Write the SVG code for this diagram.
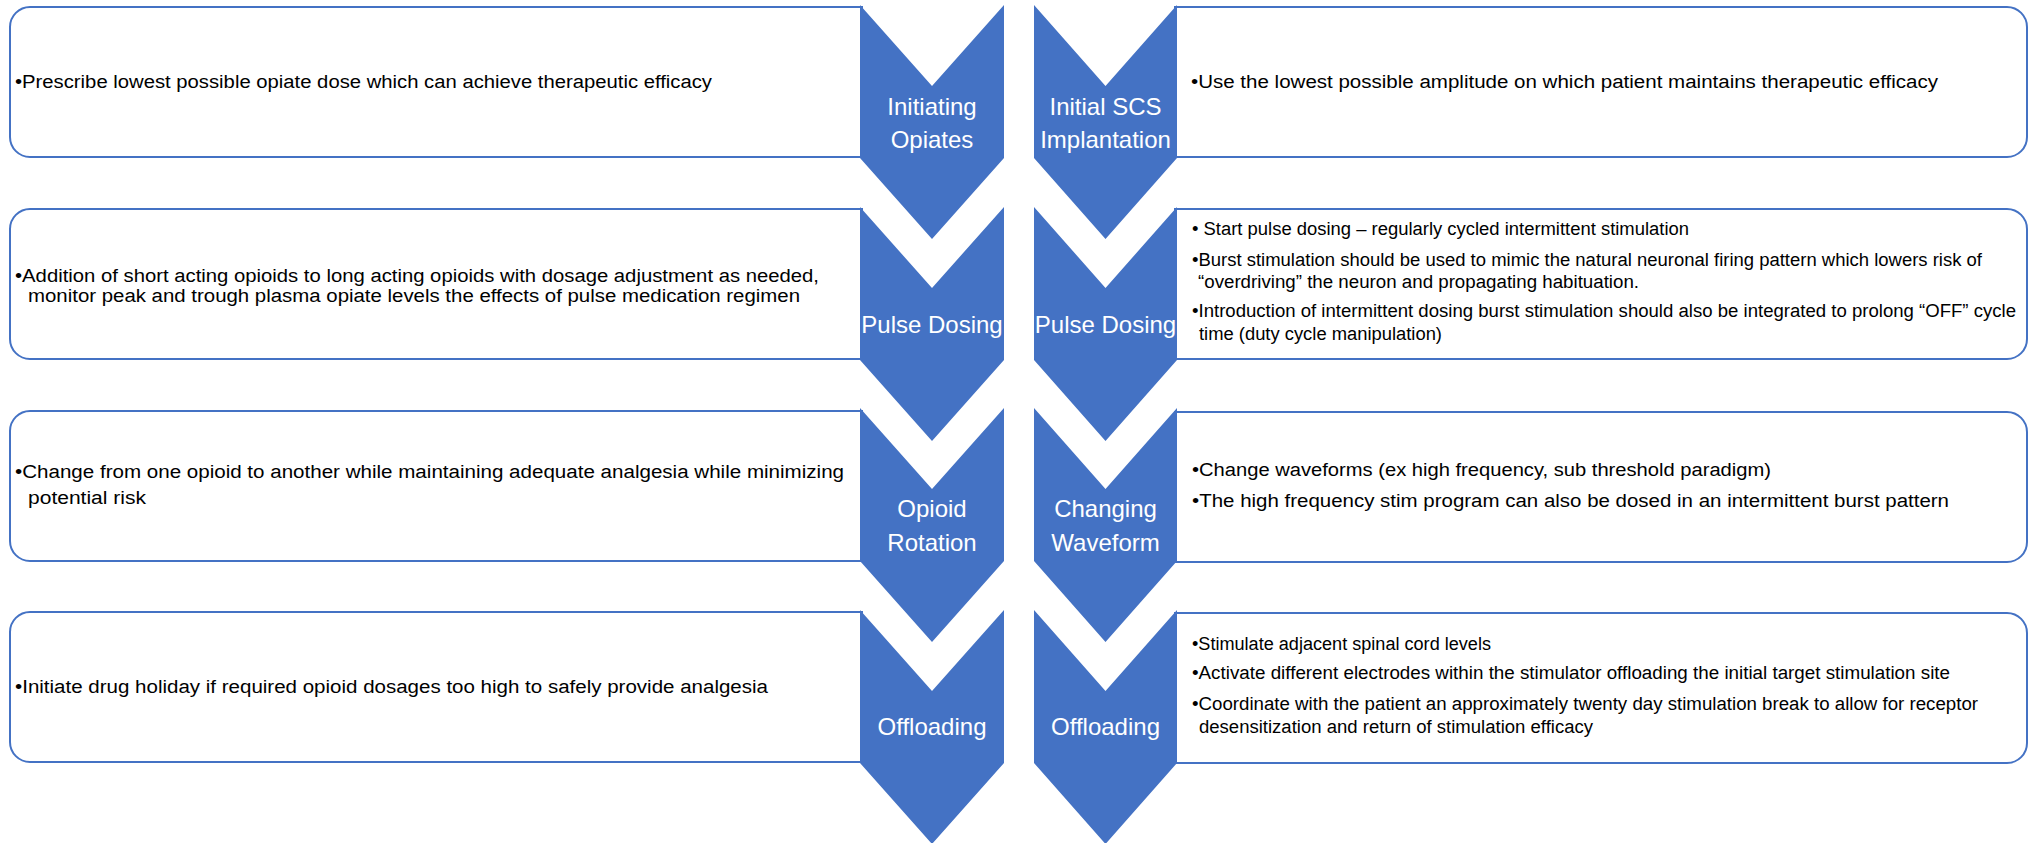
<svg xmlns="http://www.w3.org/2000/svg" width="2031" height="843" viewBox="0 0 2031 843">
<style>
.box{fill:#ffffff;stroke:#4472C4;stroke-width:2}
.chev{fill:#4472C4}
.lbl{font-family:"Liberation Sans",Arial,sans-serif;font-size:24px;fill:#ffffff;text-anchor:middle}
.txt{font-family:"Liberation Sans",Arial,sans-serif;font-size:18px;fill:#000000}
</style>
<rect width="2031" height="843" fill="#ffffff"/>
<g id="connectors"/>
<g id="left-box-1"><path class="box" d="M862 7H30A20 20 0 0 0 10 27V137A20 20 0 0 0 30 157H862Z"/>
<text class="txt" x="15" y="88" textLength="697" lengthAdjust="spacingAndGlyphs">•Prescribe lowest possible opiate dose which can achieve therapeutic efficacy</text></g>
<g id="left-box-2"><path class="box" d="M862 209H30A20 20 0 0 0 10 229V339A20 20 0 0 0 30 359H862Z"/>
<text class="txt" x="15" y="282" textLength="804" lengthAdjust="spacingAndGlyphs">•Addition of short acting opioids to long acting opioids with dosage adjustment as needed,</text>
<text class="txt" x="28" y="302" textLength="772" lengthAdjust="spacingAndGlyphs">monitor peak and trough plasma opiate levels the effects of pulse medication regimen</text></g>
<g id="left-box-3"><path class="box" d="M862 411H30A20 20 0 0 0 10 431V541A20 20 0 0 0 30 561H862Z"/>
<text class="txt" x="15" y="478" textLength="829" lengthAdjust="spacingAndGlyphs">•Change from one opioid to another while maintaining adequate analgesia while minimizing</text>
<text class="txt" x="28" y="504" textLength="118" lengthAdjust="spacingAndGlyphs">potential risk</text></g>
<g id="left-box-4"><path class="box" d="M862 612H30A20 20 0 0 0 10 632V742A20 20 0 0 0 30 762H862Z"/>
<text class="txt" x="15" y="693" textLength="753" lengthAdjust="spacingAndGlyphs">•Initiate drug holiday if required opioid dosages too high to safely provide analgesia</text></g>
<g id="right-box-1"><path class="box" d="M1175 7H2007A20 20 0 0 1 2027 27V137A20 20 0 0 1 2007 157H1175Z"/>
<text class="txt" x="1191" y="88" textLength="747" lengthAdjust="spacingAndGlyphs">•Use the lowest possible amplitude on which patient maintains therapeutic efficacy</text></g>
<g id="right-box-2"><path class="box" d="M1175 209H2007A20 20 0 0 1 2027 229V339A20 20 0 0 1 2007 359H1175Z"/>
<text class="txt" x="1192" y="235" textLength="497" lengthAdjust="spacingAndGlyphs">• Start pulse dosing – regularly cycled intermittent stimulation</text>
<text class="txt" x="1192" y="266" textLength="790" lengthAdjust="spacingAndGlyphs">•Burst stimulation should be used to mimic the natural neuronal firing pattern which lowers risk of</text>
<text class="txt" x="1198" y="288" textLength="441" lengthAdjust="spacingAndGlyphs">“overdriving” the neuron and propagating habituation.</text>
<text class="txt" x="1192" y="317" textLength="824" lengthAdjust="spacingAndGlyphs">•Introduction of intermittent dosing burst stimulation should also be integrated to prolong “OFF” cycle</text>
<text class="txt" x="1199" y="340" textLength="243" lengthAdjust="spacingAndGlyphs">time (duty cycle manipulation)</text></g>
<g id="right-box-3"><path class="box" d="M1175 412H2007A20 20 0 0 1 2027 432V542A20 20 0 0 1 2007 562H1175Z"/>
<text class="txt" x="1192" y="476" textLength="579" lengthAdjust="spacingAndGlyphs">•Change waveforms (ex high frequency, sub threshold paradigm)</text>
<text class="txt" x="1192" y="507" textLength="757" lengthAdjust="spacingAndGlyphs">•The high frequency stim program can also be dosed in an intermittent burst pattern</text></g>
<g id="right-box-4"><path class="box" d="M1175 613H2007A20 20 0 0 1 2027 633V743A20 20 0 0 1 2007 763H1175Z"/>
<text class="txt" x="1192" y="650" textLength="299" lengthAdjust="spacingAndGlyphs">•Stimulate adjacent spinal cord levels</text>
<text class="txt" x="1192" y="679" textLength="758" lengthAdjust="spacingAndGlyphs">•Activate different electrodes within the stimulator offloading the initial target stimulation site</text>
<text class="txt" x="1192" y="710" textLength="786" lengthAdjust="spacingAndGlyphs">•Coordinate with the patient an approximately twenty day stimulation break to allow for receptor</text>
<text class="txt" x="1199" y="733" textLength="394" lengthAdjust="spacingAndGlyphs">desensitization and return of stimulation efficacy</text></g>
<g id="chevron-initiating-opiates"><polygon class="chev" points="860,5 932,86 1004,5 1004,158 932,239 860,158"/>
<text class="lbl" x="932" y="115">Initiating</text><text class="lbl" x="932" y="148">Opiates</text></g>
<g id="chevron-pulse-dosing-left"><polygon class="chev" points="860,207 932,288 1004,207 1004,360 932,441 860,360"/>
<text class="lbl" x="932" y="333">Pulse Dosing</text></g>
<g id="chevron-opioid-rotation"><polygon class="chev" points="860,408 932,489 1004,408 1004,561 932,642 860,561"/>
<text class="lbl" x="932" y="517">Opioid</text><text class="lbl" x="932" y="551">Rotation</text></g>
<g id="chevron-offloading-left"><polygon class="chev" points="860,610 932,691 1004,610 1004,763 932,844 860,763"/>
<text class="lbl" x="932" y="735">Offloading</text></g>
<g id="chevron-initial-scs"><polygon class="chev" points="1034,5 1105.5,86 1177,5 1177,158 1105.5,239 1034,158"/>
<text class="lbl" x="1105.5" y="115">Initial SCS</text><text class="lbl" x="1105.5" y="148">Implantation</text></g>
<g id="chevron-pulse-dosing-right"><polygon class="chev" points="1034,207 1105.5,288 1177,207 1177,360 1105.5,441 1034,360"/>
<text class="lbl" x="1105.5" y="333">Pulse Dosing</text></g>
<g id="chevron-changing-waveform"><polygon class="chev" points="1034,408 1105.5,489 1177,408 1177,561 1105.5,642 1034,561"/>
<text class="lbl" x="1105.5" y="517">Changing</text><text class="lbl" x="1105.5" y="551">Waveform</text></g>
<g id="chevron-offloading-right"><polygon class="chev" points="1034,610 1105.5,691 1177,610 1177,763 1105.5,844 1034,763"/>
<text class="lbl" x="1105.5" y="735">Offloading</text></g>
</svg>
